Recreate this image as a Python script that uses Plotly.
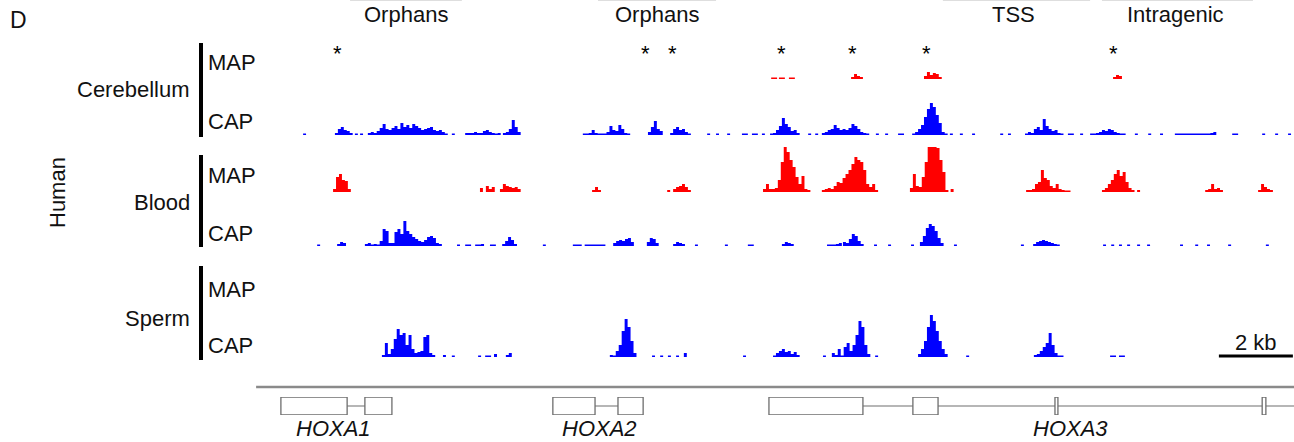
import plotly.graph_objects as go

W, H = 1294, 442
FONT = "Liberation Sans, Arial, sans-serif"
BLUE = "#0000FF"
RED = "#FF0000"
BIN = 0.08  # kb per coverage bin
X_MAX = 28.08  # kb shown

# ---------------- coverage data (kb start of each run, binned heights) ----------------
cb_map_start = [13.95, 14.16, 14.43, 16.11, 18.08, 23.19]
cb_map_bins = [[1.5, 1.5], [1.5, 1.5], [1.5, 1.5], [2, 5, 3, 2], [3, 7, 4, 6, 5, 2], [2, 4, 3]]

cb_cap_start = [1.30, 2.16, 2.70, 2.84, 3.05, 5.32, 5.68, 6.70, 8.86, 10.62, 11.22, 12.22, 12.46,
                12.76, 13.16, 13.43, 13.70, 13.92, 14.95, 15.14, 15.32, 16.78, 17.03, 17.38, 17.76,
                18.78, 19.05, 19.38, 20.14, 20.35, 20.81, 21.97, 22.30, 22.57, 23.78, 24.14, 24.46,
                24.86, 26.41, 27.22, 27.57, 27.92]
cb_cap_bins = [[1.5], [2, 6, 8, 5, 4, 2], [1.5], [1.5],
               [2, 3, 2, 4, 7, 11, 6, 5, 7, 9, 6, 12, 8, 10, 7, 11, 9, 7, 5, 6, 7, 8, 5, 4, 5, 3, 1.5],
               [1.5], [2, 2, 2, 3, 2, 2, 4, 5, 3, 2, 1.5, 2], [2, 3, 6, 15, 8, 3],
               [1.5, 1.5, 2, 5, 2, 1.5, 1.5, 1.5, 3, 9, 5, 4, 10, 6, 2, 1.5],
               [3, 8, 14, 6, 4], [2, 6, 8, 5, 6, 3, 1.5], [1.5], [1.5], [1.5],
               [1.5, 1.5], [1.5, 1.5], [1.5], [1.5, 2, 5, 9, 17, 11, 8, 4, 5, 2],
               [1.5], [1.5], [2, 3, 5, 6, 10, 7, 5, 6, 5, 7, 11, 9, 6, 3, 2, 1.5],
               [1.5], [1.5], [1.5, 1.5], [1.5, 3, 6, 10, 18, 26, 32, 28, 20, 12, 3, 1.5],
               [1.5], [1.5], [1.5], [1.5], [1.5], [1.5, 3, 2, 6, 8, 5, 16, 9, 6, 4, 5, 2, 1.5],
               [1.5, 1.5], [1.5], [1.5, 1.5, 2, 3, 5, 4, 6, 5, 3, 2, 1.5, 1.5],
               [1.5], [1.5], [1.5], [1.5] * 12 + [2, 3], [1.5, 1.5], [1.5], [1.5], [1.5]]

bl_map_start = [2.11, 6.08, 6.62, 9.11, 11.14, 13.73, 15.32, 17.70, 18.80, 20.84, 22.89, 23.84,
                25.68, 27.11]
bl_map_bins = [[3, 15, 18, 12, 11, 3], [4, 0, 6, 3, 5], [3, 8, 6, 5, 4, 5, 3], [2, 5, 2],
               [2, 0, 3, 5, 6, 8, 5, 2],
               [3, 8, 3, 3, 4, 12, 30, 45, 40, 32, 25, 15, 8, 16, 3, 2],
               [2, 3, 4, 3, 6, 10, 9, 14, 18, 22, 28, 35, 32, 30, 22, 8, 5, 8, 2],
               [4, 18, 6, 5, 15, 30, 45, 45, 45, 44, 32, 20, 2], [3],
               [2, 2, 3, 8, 10, 22, 14, 12, 6, 4, 8, 3, 2, 1.5, 1.5],
               [2, 4, 8, 12, 18, 22, 16, 20, 10, 4, 2], [2], [2, 3, 8, 3, 4, 2], [2, 8, 5, 3, 2]]

bl_cap_start = [1.68, 2.22, 2.97, 5.46, 5.68, 5.95, 6.35, 6.68, 7.78, 8.59, 9.68, 10.59, 11.30,
                11.89, 12.70, 13.32, 14.24, 15.46, 15.89, 16.73, 17.11, 17.73, 17.97, 18.89,
                20.70, 21.03, 22.92, 23.14, 23.35, 23.57, 23.84, 24.11, 25.00, 25.41, 25.73,
                26.30, 27.32]
bl_cap_bins = [[1.5], [2, 4, 3],
               [2, 3, 1.5, 2, 1.5, 5, 17, 15, 3, 3, 14, 17, 12, 25, 15, 12, 9, 7, 5, 4, 6, 9, 10, 8, 3, 2],
               [1.5], [1.5, 1.5], [1.5, 1.5, 2], [1.5, 1.5], [2, 5, 9, 6, 2], [1.5],
               [1.5, 1.5, 1.5, 0, 1.5, 1.5, 1.5, 1.5, 1.5, 1.5, 1.5], [3, 5, 6, 5, 7, 8, 4],
               [4, 8, 7, 3], [2, 4, 3, 2], [1.5], [1.5], [1.5, 1.5], [2, 4, 3, 2],
               [1.5, 1.5, 1.5, 2, 3], [4, 3, 7, 12, 10, 5, 2], [1.5], [1.5], [1.5],
               [4, 10, 18, 22, 20, 15, 8, 3], [1.5], [1.5], [2, 4, 5, 6, 5, 4, 3, 2, 1.5],
               [1.5], [1.5], [1.5], [1.5], [1.5], [1.5], [1.5], [1.5], [1.5], [1.5], [1.5]]

sp_map_start = []
sp_map_bins = []

sp_cap_start = [3.43, 5.08, 5.32, 6.03, 6.22, 6.46, 6.78, 9.59, 10.73, 10.95, 11.16, 11.38, 11.59,
                13.19, 14.00, 15.35, 15.59, 16.76, 17.92, 19.22, 21.05, 23.11]
sp_cap_bins = [[2, 14, 3, 8, 18, 28, 22, 24, 12, 22, 8, 4, 5, 6, 20, 22, 4, 2], [2], [1.5], [1.5],
               [1.5, 1.5], [3], [2, 4], [2, 1.5, 6, 12, 26, 38, 30, 16, 4], [1.5], [1.5], [1.5],
               [1.5], [4], [1.5], [1.5, 4, 6, 8, 5, 6, 3, 5, 2], [1.5],
               [4, 2, 8, 1.5, 10, 14, 6, 12, 22, 36, 30, 12, 3], [1.5],
               [3, 8, 16, 30, 42, 36, 26, 16, 8, 3], [1.5], [2, 3, 6, 10, 14, 24, 12, 4, 1.5, 1.5],
               [1.5, 1.5, 0, 1.5, 1.5]]

# ---------------- gene models (kb) ----------------
gene_names = ["HOXA1", "HOXA2", "HOXA3"]
gene_span_start = [0.70, 8.05, 13.89]
gene_span_end = [3.70, 10.49, X_MAX]
gene_label_x = [2.11, 9.32, 22.03]
exon_start = [0.70, 2.97, 8.05, 9.81, 13.89, 17.78, 21.62, 27.22]
exon_end = [2.49, 3.70, 9.19, 10.49, 16.43, 18.46, 21.70, 27.32]

# annotations
star_x = [2.24, 10.54, 11.27, 14.22, 16.16, 18.16, 23.19]
region_labels = ["Orphans", "Orphans", "TSS", "Intragenic"]
region_label_x = [4.08, 10.86, 20.49, 24.89]
region_bracket_start = [2.57, 9.27, 18.59, 22.89]
region_bracket_end = [5.59, 12.46, 22.57, 26.97]
tissues = ["Cerebellum", "Blood", "Sperm"]
assays = ["MAP", "CAP"]
scale_bar_kb = 2
scale_bar_start = 26.05

# ---------------- layout helpers (pixel geometry) ----------------
def py(p):
    return 1 - p / H

def px(p):
    return p / W

X0 = 255
track_base_px = [79, 135, 192, 246, 302, 357]
TRACK_H = 50
FS = 22
TXT = "#111111"

tracks = [
    (cb_map_start, cb_map_bins, RED),
    (cb_cap_start, cb_cap_bins, BLUE),
    (bl_map_start, bl_map_bins, RED),
    (bl_cap_start, bl_cap_bins, BLUE),
    (sp_map_start, sp_map_bins, RED),
    (sp_cap_start, sp_cap_bins, BLUE),
]


def step_xy(starts, bins):
    xs, ys = [], []
    for s, hs in zip(starts, bins):
        for i, h in enumerate(hs):
            xs.append(s + i * BIN)
            ys.append(h)
        xs.append(s + len(hs) * BIN)
        ys.append(0)
    return xs, ys


fig = go.Figure()
layout = dict(
    width=W, height=H, margin=dict(l=0, r=0, t=0, b=0),
    paper_bgcolor="white", plot_bgcolor="white", showlegend=False,
    font=dict(family=FONT, size=FS, color=TXT),
    xaxis=dict(domain=[X0 / W, 1], range=[0, X_MAX], visible=False, fixedrange=True),
)

for k, (st, bn, col) in enumerate(tracks):
    name = "y" if k == 0 else f"y{k + 1}"
    key = "yaxis" if k == 0 else f"yaxis{k + 1}"
    b = track_base_px[k]
    layout[key] = dict(domain=[py(b), py(b - TRACK_H)], range=[0, TRACK_H], visible=False,
                       anchor="x", fixedrange=True)
    xs, ys = step_xy(st, bn)
    if xs:
        fig.add_trace(go.Scatter(x=xs, y=ys, xaxis="x", yaxis=name, mode="lines",
                                 line=dict(width=0, shape="hv", color=col),
                                 fill="tozeroy", fillcolor=col, hoverinfo="skip"))

# gene axis
layout["yaxis7"] = dict(domain=[py(415), py(397)], range=[0, 1], visible=False, anchor="x",
                        fixedrange=True)
fig.add_trace(go.Scatter(x=[0], y=[0.5], xaxis="x", yaxis="y7", mode="markers",
                         marker=dict(opacity=0), hoverinfo="skip"))

shapes = []
GENE_COL = "#6e6e6e"
for s, e in zip(gene_span_start, gene_span_end):
    shapes.append(dict(type="line", xref="x", yref="y7", x0=s, x1=e, y0=0.5, y1=0.5,
                       line=dict(color=GENE_COL, width=1.2)))
for s, e in zip(exon_start, exon_end):
    shapes.append(dict(type="rect", xref="x", yref="y7", x0=s, x1=e, y0=0, y1=1,
                       fillcolor="white", line=dict(color=GENE_COL, width=1.3)))
# separator line above genes
shapes.append(dict(type="line", xref="x", yref="paper", x0=0.03, x1=X_MAX, y0=py(387), y1=py(387),
                   line=dict(color="#8a8a8a", width=2.5)))
# scale bar
shapes.append(dict(type="line", xref="x", yref="paper", x0=scale_bar_start,
                   x1=scale_bar_start + scale_bar_kb, y0=py(356), y1=py(356),
                   line=dict(color="black", width=3)))
# tissue brackets
bar_spans = [(43, 137), (155, 247), (266, 360)]
for a, b in bar_spans:
    shapes.append(dict(type="line", xref="paper", yref="paper", x0=px(201), x1=px(201),
                       y0=py(a), y1=py(b), line=dict(color="black", width=4)))
# region brackets (cut at top)
for s, e in zip(region_bracket_start, region_bracket_end):
    shapes.append(dict(type="line", xref="x", yref="paper", x0=s, x1=e, y0=py(0.4), y1=py(0.4),
                       line=dict(color="#dadada", width=1)))

ann = []
ann.append(dict(text="D", x=px(8), y=py(20), xref="paper", yref="paper", xanchor="left",
                yanchor="middle", showarrow=False, font=dict(size=23)))
ann.append(dict(text="Human", x=px(57), y=py(193), xref="paper", yref="paper", textangle=-90,
                xanchor="center", yanchor="middle", showarrow=False, font=dict(size=FS)))
tissue_y = [90, 203, 318]
for t, yy in zip(tissues, tissue_y):
    ann.append(dict(text=t, x=px(192), y=py(yy), xref="paper", yref="paper", xanchor="right",
                    yanchor="middle", showarrow=False, font=dict(size=FS)))
assay_y = [(63, 121), (176, 233), (289, 345)]
for my, cy in assay_y:
    for lab, yy in zip(assays, (my, cy)):
        ann.append(dict(text=lab, x=px(206), y=py(yy), xref="paper", yref="paper",
                        xanchor="left", yanchor="middle", showarrow=False, font=dict(size=FS)))
for sx in star_x:
    ann.append(dict(text="*", x=sx, y=py(53), xref="x", yref="paper", xanchor="center",
                    yanchor="middle", showarrow=False, font=dict(size=22, color="black")))
for lab, lx in zip(region_labels, region_label_x):
    ann.append(dict(text=lab, x=lx, y=py(14), xref="x", yref="paper", xanchor="center",
                    yanchor="middle", showarrow=False, font=dict(size=FS)))
for g, gx in zip(gene_names, gene_label_x):
    ann.append(dict(text=f"<i>{g}</i>", x=gx, y=py(428), xref="x", yref="paper",
                    xanchor="center", yanchor="middle", showarrow=False, font=dict(size=FS)))
ann.append(dict(text=f"{scale_bar_kb} kb", x=scale_bar_start + scale_bar_kb / 2, y=py(342),
                xref="x", yref="paper", xanchor="center", yanchor="middle", showarrow=False,
                font=dict(size=FS)))

layout["shapes"] = shapes
layout["annotations"] = ann
fig.update_layout(**layout)
fig.write_html("out.html", config={"displayModeBar": False},
               post_script="document.body.style.margin='0';document.body.style.padding='0';"
                           "document.body.style.overflow='hidden';")
